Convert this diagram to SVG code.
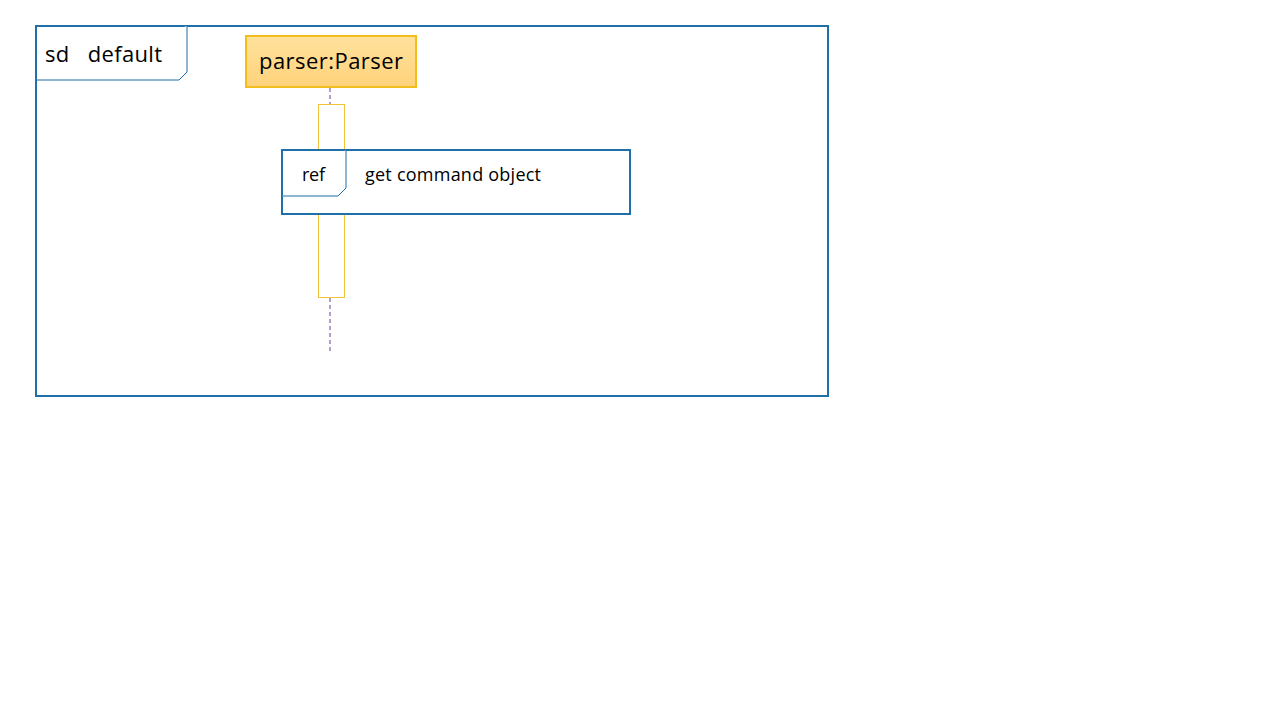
<svg xmlns="http://www.w3.org/2000/svg" width="1280" height="720" viewBox="0 0 1280 720">
<style>
.frame{fill:none;stroke:#1F6FA8;stroke-width:2}
.tab{fill:#fff;stroke:#1F6FA8;stroke-width:1}
.t{font-family:"Open Sans","Liberation Sans",sans-serif;fill:#000}
.life{stroke:#6A3A8A;stroke-width:1;stroke-dasharray:4 3}
</style>
<defs>
<linearGradient id="g" x1="0" y1="0" x2="0" y2="1">
<stop offset="0" stop-color="#FFE29E"/>
<stop offset="1" stop-color="#FFD27A"/>
</linearGradient>
</defs>
<rect width="1280" height="720" fill="#fff"/>
<g id="sd-frame">
<rect x="36" y="26" width="792" height="370" class="frame"/>
<path d="M36 80 H179 L187 72 V26" class="tab"/>
<text x="45" y="62" class="t" font-size="22" xml:space="preserve" textLength="117">sd   default</text>
</g>
<g id="connectors">
<line x1="330" y1="88" x2="330" y2="104" class="life"/>
<line x1="330" y1="298" x2="330" y2="352" class="life"/>
</g>
<g id="parser">
<rect x="246" y="36" width="170" height="51" fill="url(#g)" stroke="#F2BE1E" stroke-width="2"/>
<text x="331" y="69" class="t" font-size="22" text-anchor="middle" textLength="144">parser:Parser</text>
</g>
<g id="activation">
<rect x="318.5" y="104.5" width="26" height="193" fill="#fff" stroke="#F2C23A" stroke-width="1"/>
</g>
<g id="ref-frame">
<rect x="282" y="150" width="348" height="64" fill="#fff" stroke="#1F6FA8" stroke-width="2"/>
<path d="M282 196 H338 L346 188 V150" class="tab"/>
<text x="302" y="181" class="t" font-size="18" textLength="23">ref</text>
<text x="365" y="181" class="t" font-size="18" textLength="176">get command object</text>
</g>
</svg>
